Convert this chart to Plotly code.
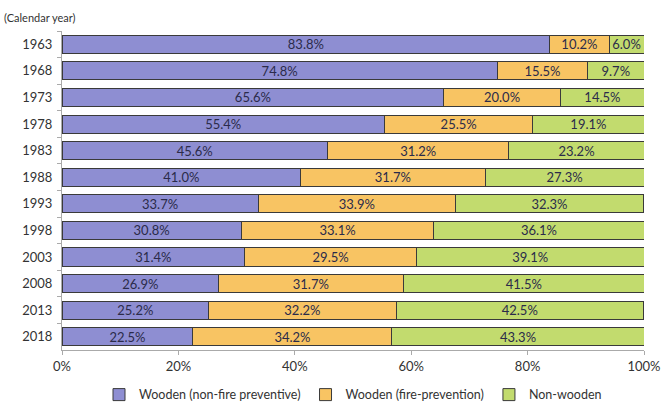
import plotly.graph_objects as go

years = ["1963", "1968", "1973", "1978", "1983", "1988", "1993", "1998", "2003", "2008", "2013", "2018"]
wooden_nonfire = [83.8, 74.8, 65.6, 55.4, 45.6, 41.0, 33.7, 30.8, 31.4, 26.9, 25.2, 22.5]
wooden_fire = [10.2, 15.5, 20.0, 25.5, 31.2, 31.7, 33.9, 33.1, 29.5, 31.7, 32.2, 34.2]
non_wooden = [6.0, 9.7, 14.5, 19.1, 23.2, 27.3, 32.3, 36.1, 39.1, 41.5, 42.5, 43.3]

series = [
    ("Wooden (non-fire preventive)", wooden_nonfire, "#8e8ed2"),
    ("Wooden (fire-prevention)", wooden_fire, "#f8c463"),
    ("Non-wooden", non_wooden, "#c2db6e"),
]

fig = go.Figure()
for name, vals, color in series:
    fig.add_trace(go.Bar(
        y=years, x=vals, name=name, orientation="h",
        marker=dict(color=color, line=dict(color="#3a3a3a", width=1)),
        text=[f"{v:.1f}%" for v in vals],
        textposition="inside", insidetextanchor="middle",
        textfont=dict(color="#2b2b4a", size=13, family="Lato"),
        constraintext="none",
    ))

fig.update_layout(
    barmode="stack",
    bargap=0.32,
    width=663, height=407,
    margin=dict(l=62, r=19, t=31, b=57, autoexpand=False),
    plot_bgcolor="white", paper_bgcolor="white",
    font=dict(family="Lato", size=13, color="#333333"),
    uniformtext=dict(minsize=13, mode="show"),
    legend=dict(orientation="h", x=0.5, xanchor="center", y=-0.141, yanchor="middle",
                font=dict(size=12.5, color="#333333"), traceorder="normal",
                itemwidth=30, tracegroupgap=0),
    annotations=[dict(text="(Calendar year)", x=0, y=1, xref="paper", yref="paper",
                      xshift=-60, yshift=5, xanchor="left", yanchor="bottom",
                      showarrow=False, font=dict(size=11, color="#333333"))],
)
fig.update_xaxes(range=[0, 100], tickvals=[0, 20, 40, 60, 80, 100],
                 ticktext=["0%", "20%", "40%", "60%", "80%", "100%"],
                 showgrid=False, showline=True, linecolor="#aaaaaa",
                 ticks="outside", ticklen=4, tickcolor="#aaaaaa", automargin=False,
                 tickfont=dict(size=13, color="#333333"), zeroline=False)
fig.update_yaxes(autorange="reversed", showgrid=False, showline=True, automargin=False,
                 linecolor="#aaaaaa", ticks="outside", tickson="boundaries", ticklen=4,
                 tickcolor="#aaaaaa", tickfont=dict(size=13, color="#333333"),
                 ticklabelstandoff=6)

fig.write_html("out.html")
